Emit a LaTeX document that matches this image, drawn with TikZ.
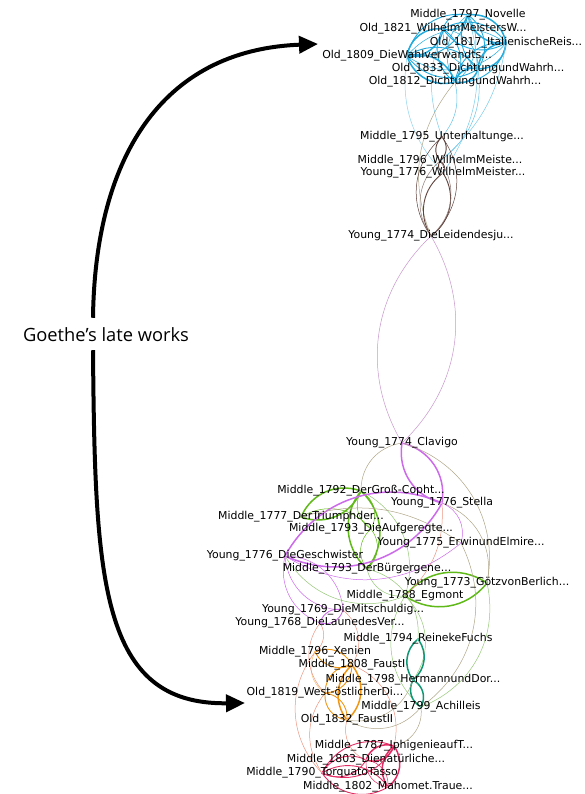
\documentclass[tikz,border=0pt]{standalone}
\usepackage{fontspec}
\usepackage{xcolor}
\usepackage{tikz}
\usetikzlibrary{arrows.meta, positioning, backgrounds}
\newfontfamily\gephifont{DejaVu Sans}
\newfontfamily\notefont{Open Sans}
\definecolor{lateblue}{RGB}{35,170,220}
\definecolor{bildbrown}{RGB}{95,65,60}
\definecolor{wertherpink}{RGB}{200,150,205}
\definecolor{dramagreen}{RGB}{95,185,25}
\definecolor{dramaviolet}{RGB}{205,105,235}
\definecolor{faustorange}{RGB}{240,150,20}
\definecolor{epicteal}{RGB}{15,150,115}
\definecolor{tassorose}{RGB}{225,45,100}
\definecolor{thinsalmon}{RGB}{235,150,130}
\definecolor{thinkhaki}{RGB}{175,165,135}
\definecolor{thingreen}{RGB}{150,200,120}
% two arcs between the same works
\newcommand{\lens}[4][42]{\draw[#4] (#2) to[bend left=#1] (#3) (#3) to[bend left=#1] (#2);}

\begin{document}
\begin{tikzpicture}[
    x=1pt, y=-1pt,
    work/.style={circle, fill=#1, inner sep=0pt, minimum size=2pt},
    wlabel/.style={font=\gephifont\fontsize{10.9}{12}\selectfont, inner sep=0pt},
    tie/.style={line width=0.5pt, draw=#1},
    midtie/.style={line width=0.9pt, draw=#1},
    strongtie/.style={line width=1.5pt, draw=#1},
    bigarrow/.style={line width=4pt, -{Triangle[length=19pt, width=17pt]}}
]
    \useasboundingbox (0,0) rectangle (585,794);

    % Late works
    \node[work=lateblue, label={[wlabel]center:Middle\_1797\_Novelle}] (novelle) at (468,15) {};
    \node[work=lateblue, label={[wlabel]center:Old\_1821\_WilhelmMeistersW...}] (wmwander) at (443,29) {};
    \node[work=lateblue, label={[wlabel]center:Old\_1817\_ItalienischeReis...}] (italien) at (506,43) {};
    \node[work=lateblue, label={[wlabel]center:Old\_1809\_DieWahlverwandts...}] (wahlver) at (407,56) {};
    \node[work=lateblue, label={[wlabel]center:Old\_1833\_DichtungundWahrh...}] (dw1833) at (478,69) {};
    \node[work=lateblue, label={[wlabel]center:Old\_1812\_DichtungundWahrh...}] (dw1812) at (455,82) {};

    % Wilhelm Meister and Werther
    \node[work=bildbrown, label={[wlabel]center:Middle\_1795\_Unterhaltunge...}] (unterh) at (442,137) {};
    \node[work=bildbrown, label={[wlabel]center:Middle\_1796\_WilhelmMeiste...}] (wmlehr) at (440,161) {};
    \node[work=bildbrown, label={[wlabel]center:Young\_1776\_WilhelmMeister...}] (wmtheat) at (443,173) {};
    \node[work=bildbrown, label={[wlabel]center:Young\_1774\_DieLeidendesju...}] (werther) at (431,236) {};

    % Dramas
    \node[work=dramaviolet, label={[wlabel]center:Young\_1774\_Clavigo}] (clavigo) at (402,443) {};
    \node[work=dramagreen, label={[wlabel]center:Middle\_1792\_DerGroß-Copht...}] (copht) at (361,491) {};
    \node[work=dramaviolet, label={[wlabel]center:Young\_1776\_Stella}] (stella) at (442,503) {};
    \node[work=dramagreen, label={[wlabel]center:Middle\_1777\_DerTriumphder...}] (triumph) at (301,517) {};
    \node[work=dramagreen, label={[wlabel]center:Middle\_1793\_DieAufgeregte...}] (aufger) at (371,529) {};
    \node[work=dramaviolet, label={[wlabel]center:Young\_1775\_ErwinundElmire...}] (erwin) at (461,543) {};
    \node[work=dramaviolet, label={[wlabel]center:Young\_1776\_DieGeschwister}] (geschw) at (285,556) {};
    \node[work=dramagreen, label={[wlabel]center:Middle\_1793\_DerBürgergene...}] (buerger) at (367,569) {};
    \node[work=dramagreen, label={[wlabel]center:Young\_1773\_GötzvonBerlich...}] (goetz) at (487,583) {};
    \node[work=dramagreen, label={[wlabel]center:Middle\_1788\_Egmont}] (egmont) at (405,596) {};
    \node[work=dramaviolet, label={[wlabel]center:Young\_1769\_DieMitschuldig...}] (mitsch) at (343,610) {};
    \node[work=dramaviolet, label={[wlabel]center:Young\_1768\_DieLaunedesVer...}] (laune) at (320,623) {};

    % Epics and Faust
    \node[work=epicteal, label={[wlabel]center:Middle\_1794\_ReinekeFuchs}] (reineke) at (418,639) {};
    \node[work=faustorange, label={[wlabel]center:Middle\_1796\_Xenien}] (xenien) at (315,652) {};
    \node[work=faustorange, label={[wlabel]center:Middle\_1808\_FaustI}] (faust1) at (352,665) {};
    \node[work=epicteal, label={[wlabel]center:Middle\_1798\_HermannundDor...}] (hermann) at (413,680) {};
    \node[work=faustorange, label={[wlabel]center:Old\_1819\_West-östlicherDi...}] (divan) at (325,693) {};
    \node[work=epicteal, label={[wlabel]center:Middle\_1799\_Achilleis}] (achill) at (421,707) {};
    \node[work=faustorange, label={[wlabel]center:Old\_1832\_FaustII}] (faust2) at (347,720) {};

    % Classical dramas
    \node[work=tassorose, label={[wlabel]center:Middle\_1787\_IphigenieaufT...}] (iphig) at (394,746) {};
    \node[work=tassorose, label={[wlabel]center:Middle\_1803\_Dienatürliche...}] (natuer) at (366,760) {};
    \node[work=tassorose, label={[wlabel]center:Middle\_1790\_TorquatoTasso}] (tasso) at (322,773) {};
    \node[work=tassorose, label={[wlabel]center:Middle\_1802\_Mahomet.Traue...}] (mahomet) at (388,787) {};

    % Annotation
    \node[font=\notefont\fontsize{18.3}{22}\selectfont, inner sep=0pt] (note) at (106,335) {Goethe’s late works};
    \coordinate (toplate) at (318,44);
    \coordinate (botlate) at (245,703);
    \draw[bigarrow] ([xshift=-13pt, yshift=10pt]note.north) .. controls (95,160) and (160,50) .. (toplate);
    \draw[bigarrow] ([xshift=-13pt, yshift=-8pt]note.south) .. controls (95,580) and (100,705) .. (botlate);

    \begin{scope}[on background layer]
    % Late works cluster
    \lens{novelle}{wmwander}{midtie=lateblue}
    \lens{novelle}{italien}{strongtie=lateblue}
    \lens{novelle}{wahlver}{midtie=lateblue}
    \lens{novelle}{dw1833}{midtie=lateblue}
    \lens{novelle}{dw1812}{tie=lateblue}
    \lens{wmwander}{italien}{midtie=lateblue}
    \lens{wmwander}{wahlver}{strongtie=lateblue}
    \lens{wmwander}{dw1812}{midtie=lateblue}
    \lens{wmwander}{dw1833}{tie=lateblue}
    \lens{italien}{dw1833}{strongtie=lateblue}
    \lens{italien}{dw1812}{midtie=lateblue}
    \lens{italien}{wahlver}{tie=lateblue}
    \lens{wahlver}{dw1812}{strongtie=lateblue}
    \lens{wahlver}{dw1833}{midtie=lateblue}
    \lens{dw1833}{dw1812}{strongtie=lateblue}
    \draw[tie=lateblue!70] (dw1812) to[bend left=25] (unterh);
    \draw[tie=lateblue!70] (dw1833) to[bend left=30] (wmlehr);
    \draw[tie=lateblue!60] (novelle) to[bend left=25] (wmtheat);
    \draw[tie=lateblue!60] (wmwander) to[bend right=20] (unterh);
    \draw[tie=lateblue!60] (italien) to[bend left=20] (wmlehr);
    \draw[tie=lateblue!50] (wahlver) to[bend right=25] (wmtheat);
    \draw[tie=thinkhaki] (dw1812) to[bend right=30] (werther);

    % Wilhelm Meister and Werther
    \lens{unterh}{wmlehr}{midtie=bildbrown}
    \lens{wmlehr}{wmtheat}{midtie=bildbrown}
    \lens{wmtheat}{werther}{midtie=bildbrown}
    \lens{unterh}{werther}{tie=bildbrown}
    \lens{wmlehr}{werther}{tie=bildbrown!70}
    \lens[38]{werther}{clavigo}{tie=wertherpink}

    % Dramas
    \lens{copht}{triumph}{strongtie=dramagreen}
    \lens{copht}{buerger}{strongtie=dramagreen}
    \lens{egmont}{goetz}{strongtie=dramagreen}
    \lens{copht}{aufger}{tie=dramagreen}
    \lens{aufger}{buerger}{tie=dramagreen}
    \draw[tie=dramagreen] (triumph) to[bend left=40] (aufger);
    \draw[tie=thingreen] (copht) to[bend left=40] (egmont);
    \draw[tie=thingreen] (buerger) to[bend right=40] (egmont);
    \draw[tie=thingreen] (buerger) to[bend left=40] (reineke);
    \draw[tie=thingreen] (egmont) to[bend left=40] (hermann);
    \draw[tie=thingreen] (goetz) to[bend left=40] (achill);
    \draw[tie=thingreen] (egmont) to[bend right=40] (achill);
    \draw[tie=thingreen] (geschw) to[bend right=40] (egmont);
    \lens{clavigo}{stella}{strongtie=dramaviolet}
    \lens{geschw}{stella}{strongtie=dramaviolet}
    \draw[tie=dramaviolet] (stella) to[bend left=40] (erwin);
    \lens{geschw}{mitsch}{tie=dramaviolet}
    \lens{mitsch}{laune}{midtie=dramaviolet}
    \draw[tie=dramaviolet] (geschw) to[bend right=40] (laune);
    \draw[tie=dramaviolet] (erwin) to[bend left=35] (geschw);
    \draw[tie=thinkhaki] (clavigo) to[bend right=40] (copht);
    \draw[tie=thinkhaki] (clavigo) to[bend left=42] (goetz);
    \draw[tie=thinkhaki] (stella) to[bend left=40] (goetz);
    \draw[tie=thinkhaki] (erwin) to[bend left=40] (achill);
    \draw[tie=thinkhaki] (triumph) to[bend left=25] (erwin);
    \draw[tie=thinsalmon] (stella) to[bend left=25] (egmont);

    % Epics and Faust
    \lens{reineke}{hermann}{strongtie=epicteal}
    \lens{hermann}{achill}{strongtie=epicteal}
    \lens{xenien}{faust1}{midtie=faustorange}
    \lens{faust1}{faust2}{strongtie=faustorange}
    \lens{divan}{faust1}{midtie=faustorange}
    \lens{divan}{faust2}{midtie=faustorange}
    \draw[tie=faustorange!60] (xenien) to[bend right=40] (divan);
    \draw[tie=thinsalmon] (laune) to[bend left=40] (xenien);
    \draw[tie=thinsalmon] (mitsch) to[bend left=40] (faust1);
    \draw[tie=thinsalmon] (laune) to[bend right=40] (divan);
    \draw[tie=thinsalmon] (xenien) to[bend right=40] (tasso);
    \draw[tie=thinsalmon] (faust1) to[bend left=40] (iphig);
    \draw[tie=thinsalmon] (faust2) to[bend right=40] (natuer);
    \draw[tie=thinsalmon] (divan) to[bend right=35] (tasso);
    \draw[tie=thinkhaki] (achill) to[bend left=40] (faust2);
    \draw[tie=thinkhaki] (hermann) to[bend left=40] (faust2);
    \draw[tie=thinkhaki] (achill) to[bend left=40] (iphig);

    % Classical dramas
    \lens{iphig}{natuer}{strongtie=tassorose}
    \lens{iphig}{tasso}{midtie=tassorose}
    \lens{iphig}{mahomet}{strongtie=tassorose}
    \lens{natuer}{tasso}{midtie=tassorose}
    \lens{natuer}{mahomet}{tie=tassorose}
    \lens{tasso}{mahomet}{midtie=tassorose}
    \end{scope}
\end{tikzpicture}
\end{document}
